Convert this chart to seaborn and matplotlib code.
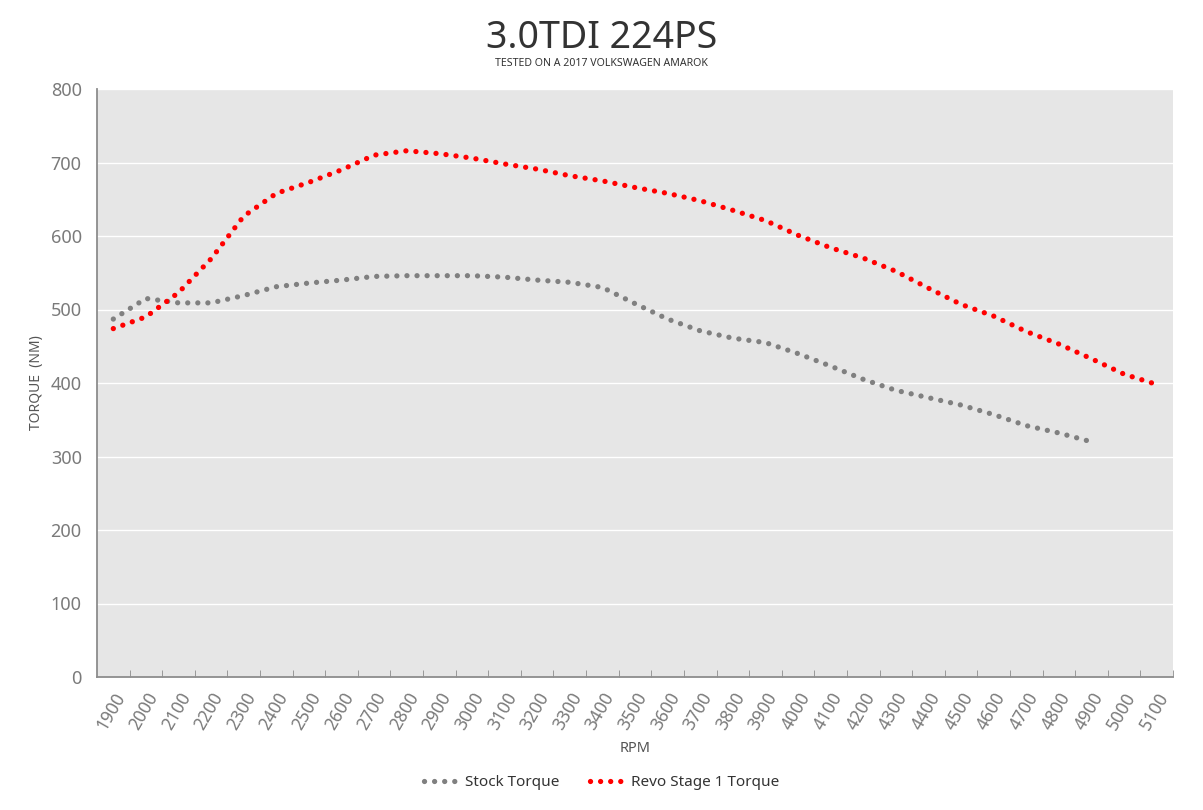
import numpy as np
import pandas as pd
import matplotlib
matplotlib.use("Agg")
import matplotlib.pyplot as plt
import seaborn as sns

# RPM categories
rpm = list(range(1900, 5200, 100))

# torque values (Nm)
stock_torque = [487, 515, 509, 509, 519, 531, 536, 540, 545, 546, 546, 546,
                544, 540, 537, 530, 508, 487, 471, 461, 455, 440, 423, 405,
                390, 380, 370, 357, 342, 332, 320, np.nan, np.nan]
revo_torque = [474, 490, 523, 569, 627, 658, 673, 690, 710, 716, 712, 706,
               698, 691, 682, 675, 666, 658, 648, 635, 621, 601, 584, 570,
               552, 529, 507, 491, 470, 453, 433, 412, 398]

y_ticks = [0, 100, 200, 300, 400, 500, 600, 700, 800]

df = pd.DataFrame({'rpm': rpm, 'stock': stock_torque, 'revo': revo_torque})

sns.set_style("darkgrid", {'axes.facecolor': '#e6e6e6', 'grid.color': 'white'})
plt.rcParams['font.family'] = ['Noto Sans', 'DejaVu Sans']

fig = plt.figure(figsize=(12.03, 8.10), dpi=100)
ax = fig.add_axes([97/1203, 1 - 677/810, (1173-97)/1203, (677-89)/810])

dot_style = {'linewidth': 3.8, 'linestyle': (0, (0.01, 1.9)),
             'dash_capstyle': 'round'}
sns.lineplot(data=df, x='rpm', y='stock', ax=ax, color='#808080',
             label='Stock Torque', **dot_style)
sns.lineplot(data=df, x='rpm', y='revo', ax=ax, color='#ff0000',
             label='Revo Stage 1 Torque', **dot_style)

ax.set_xlim(rpm[0] - 50, rpm[-1] + 50)
ax.set_ylim(0, 800)
ax.set_yticks(y_ticks)
ax.set_xticks(rpm)
ax.set_xticks([r + 50 for r in rpm], minor=True)
ax.set_xticklabels([str(r) for r in rpm], rotation=60, ha='right',
                   rotation_mode='anchor')

ax.grid(False, axis='x')
ax.grid(True, axis='y', color='white', linewidth=1)
for side in ['top', 'right']:
    ax.spines[side].set_visible(False)
for side in ['left', 'bottom']:
    ax.spines[side].set_visible(True)
    ax.spines[side].set_color('#8c8c8c')
    ax.spines[side].set_linewidth(1.3)

ax.tick_params(axis='x', which='major', length=0, pad=9,
               labelsize=12.5, labelcolor='#7a7a7a')
ax.tick_params(axis='x', which='minor', direction='in', length=5,
               color='#8c8c8c', bottom=True)
ax.tick_params(axis='y', length=0, pad=11, labelsize=13, labelcolor='#7a7a7a')

ax.set_xlabel('RPM', fontsize=10.5, color='#555555', labelpad=6)
ax.set_ylabel('TORQUE  (NM)', fontsize=10, color='#555555', labelpad=5)

fig.text(0.5, 1 - 38/810, '3.0TDI 224PS', ha='center', va='center',
         fontsize=27, color='#333333')
fig.text(0.5, 1 - 64/810, 'TESTED ON A 2017 VOLKSWAGEN AMAROK', ha='center',
         va='center', fontsize=7.6, color='#333333')

ax.legend(loc='center', bbox_to_anchor=(0.5, 1 - 783/810),
          bbox_transform=fig.transFigure, ncol=2, frameon=False,
          fontsize=11, handlelength=2.2, handletextpad=0.5, columnspacing=2.0,
          labelcolor='#333333')

fig.savefig('out.png', dpi=100, facecolor='white')
